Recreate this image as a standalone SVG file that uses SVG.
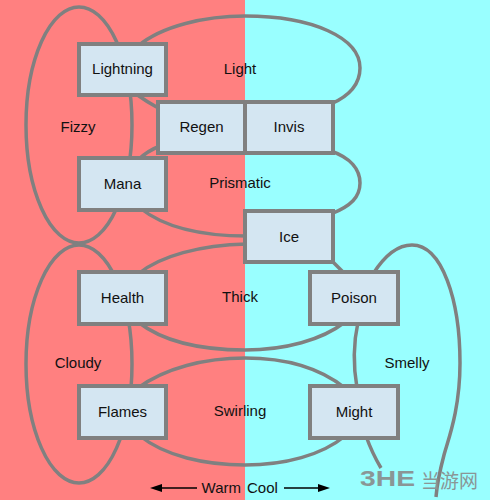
<svg xmlns="http://www.w3.org/2000/svg" width="490" height="500" viewBox="0 0 490 500">
<defs>
<style>
.ln{fill:none;stroke:#808080;stroke-width:3.5}
.box{fill:#D4E6F2;stroke:#808080;stroke-width:4}
.t{font-family:"Liberation Sans",Arial,sans-serif;font-size:15px;fill:#111;text-anchor:middle}
.ar{stroke:#000;stroke-width:1.3}
</style>
</defs>
<rect x="0" y="0" width="245" height="500" fill="#FF8080"/>
<rect x="245" y="0" width="245" height="500" fill="#99FFFF"/>
<g id="connectors">
<ellipse class="ln" cx="79" cy="125" rx="53" ry="118"/>
<ellipse class="ln" cx="79" cy="364" rx="53" ry="119"/>
<path class="ln" d="M138,46 C162,26 205,16 245,16 C313,16 360,38 360,68 C360,84 349,96 331,104"/>
<path class="ln" d="M136,94 Q147,102 160,109"/>
<path class="ln" d="M138,160 Q147,151 160,146"/>
<path class="ln" d="M331,151 C351,158 360,170 360,183 C360,197 351,206 331,214"/>
<path class="ln" d="M140,208 C165,228 205,236 247,236"/>
<path class="ln" d="M138,274 C160,256 200,245 247,244"/>
<path class="ln" d="M331,260 L345,274"/>
<path class="ln" d="M138,322 C165,343 205,350 245,350 C285,350 322,340 345,322"/>
<path class="ln" d="M138,388 C165,368 205,358 245,358 C285,358 320,368 345,388"/>
<path class="ln" d="M140,436 C165,456 205,465 245,465 C285,465 322,455 345,436"/>
<path class="ln" d="M373,274 C385,255 398,245 412,245 C442,245 460,300 460,363 C460,410 448,440 444,455 C440,470 437,485 436,497"/>
<path class="ln" d="M358,322 C353,345 353,365 357,388"/>
<path class="ln" d="M366,436 C371,450 375,458 381,468"/>
</g>
<g id="region-labels">
<text class="t" x="78" y="132">Fizzy</text>
<text class="t" x="240" y="74">Light</text>
<text class="t" x="240" y="188">Prismatic</text>
<text class="t" x="240" y="302">Thick</text>
<text class="t" x="78" y="368">Cloudy</text>
<text class="t" x="240" y="416">Swirling</text>
<text class="t" x="407" y="368">Smelly</text>
</g>
<g id="lightning"><rect class="box" x="79" y="44" width="87" height="51"/><text class="t" x="122.5" y="74">Lightning</text></g>
<g id="regen"><rect class="box" x="158" y="102" width="87" height="51"/><text class="t" x="201.5" y="132">Regen</text></g>
<g id="invis"><rect class="box" x="245" y="102" width="88" height="51"/><text class="t" x="289" y="132">Invis</text></g>
<g id="mana"><rect class="box" x="79" y="158" width="87" height="52"/><text class="t" x="122.5" y="189">Mana</text></g>
<g id="ice"><rect class="box" x="245" y="211" width="88" height="51"/><text class="t" x="289" y="242">Ice</text></g>
<g id="health"><rect class="box" x="79" y="272" width="87" height="52"/><text class="t" x="122.5" y="303">Health</text></g>
<g id="poison"><rect class="box" x="310" y="272" width="88" height="52"/><text class="t" x="354" y="303">Poison</text></g>
<g id="flames"><rect class="box" x="79" y="386" width="87" height="52"/><text class="t" x="122.5" y="417">Flames</text></g>
<g id="might"><rect class="box" x="310" y="386" width="88" height="52"/><text class="t" x="354" y="417">Might</text></g>
<g id="legend">
<line class="ar" x1="160" y1="488" x2="197" y2="488"/>
<polygon points="150,488 162,484 162,492" fill="#000"/>
<text class="t" x="241" y="493" style="text-anchor:end">Warm</text>
<text class="t" x="247" y="493" style="text-anchor:start">Cool</text>
<line class="ar" x1="284" y1="488" x2="320" y2="488"/>
<polygon points="330,488 318,484 318,492" fill="#000"/>
</g>
<g id="watermark" fill="#8A9696">
<text x="360" y="486" font-family="Liberation Sans, Arial, sans-serif" font-weight="bold" font-size="22" textLength="55" lengthAdjust="spacingAndGlyphs">3HE</text>
<text x="421" y="488" font-family="Noto Sans CJK SC, sans-serif" font-size="19">当游网</text>
</g>
</svg>
